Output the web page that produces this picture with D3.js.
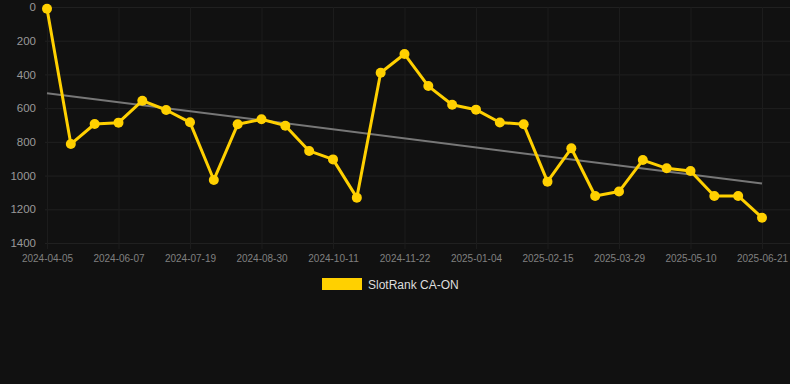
<!DOCTYPE html>
<html>
<head>
<meta charset="utf-8">
<script src="https://cdn.jsdelivr.net/npm/d3@7"></script>
<style>
    html, body { margin: 0; padding: 0; background: #111111; }
    svg { display: block; font-family: Arial, "Liberation Sans", sans-serif; }
</style>
</head>
<body>
<svg id="chart" width="790" height="384"></svg>
<script>
    'use strict';

    var dates = [
        '2024-04-05', '2024-04-26', '2024-05-17', '2024-06-07', '2024-06-21',
        '2024-07-05', '2024-07-19', '2024-08-02', '2024-08-16', '2024-08-30',
        '2024-09-13', '2024-09-27', '2024-10-11', '2024-10-25', '2024-11-08',
        '2024-11-22', '2024-12-06', '2024-12-20', '2025-01-04', '2025-01-18',
        '2025-02-01', '2025-02-15', '2025-03-01', '2025-03-15', '2025-03-29',
        '2025-04-12', '2025-04-26', '2025-05-10', '2025-05-24', '2025-06-07',
        '2025-06-21'
    ];

    var ranks = [
        10, 813, 694, 686, 556, 611, 684, 1026, 696, 666,
        704, 854, 904, 1131, 390, 279, 469, 580, 609, 685,
        696, 1036, 838, 1121, 1095, 908, 957, 973, 1121, 1121,
        1250
    ];

    var yTicks = [0, 200, 400, 600, 800, 1000, 1200, 1400];
    var seriesName = 'SlotRank CA-ON';

    (function() {
        var svg = d3.select('#chart');

        var plotLeft = 47,
            plotRight = 762,
            plotTop = 7,
            plotBottom = 243,
            gridColor = '#202020',
            lineColor = '#ffd000';

        var x = d3.scalePoint()
            .domain(dates)
            .range([plotLeft, plotRight]);

        var y = d3.scaleLinear()
            .domain([0, 1400])
            .range([plotTop, plotBottom]);

        // Horizontal grid + y labels
        var yAxis = d3.axisLeft(y)
            .tickValues(yTicks)
            .tickFormat(d3.format('d'))
            .tickSize(-(790 - 45))
            .tickPadding(9);

        svg.append('g')
            .attr('transform', 'translate(45, 0)')
            .call(yAxis)
            .call(g => g.select('.domain').remove())
            .call(g => g.selectAll('.tick line').attr('stroke', gridColor))
            .call(g => g.selectAll('.tick text')
                .attr('fill', '#999999')
                .attr('font-size', 11.5));

        // Vertical grid + x labels (every third date)
        var labelDates = dates.filter((d, i) => i % 3 === 0);
        var xAxis = d3.axisBottom(x)
            .tickValues(labelDates)
            .tickSize(-(plotBottom - plotTop) - 6)
            .tickPadding(4);

        svg.append('g')
            .attr('transform', `translate(0, ${plotBottom + 6})`)
            .call(xAxis)
            .call(g => g.select('.domain').remove())
            .call(g => g.selectAll('.tick line').attr('stroke', '#1c1c1c'))
            .call(g => g.selectAll('.tick text')
                .attr('y', 6)
                .attr('fill', '#808080')
                .attr('font-size', 10));

        // Trend line (least squares fit of the ranks)
        var n = ranks.length,
            meanI = d3.mean(ranks, (d, i) => i),
            meanV = d3.mean(ranks),
            sxy = d3.sum(ranks, (d, i) => (i - meanI) * (d - meanV)),
            sxx = d3.sum(ranks, (d, i) => (i - meanI) * (i - meanI)),
            slope = sxy / sxx,
            intercept = meanV - slope * meanI;

        svg.append('line')
            .attr('x1', x(dates[0]))
            .attr('y1', y(intercept))
            .attr('x2', x(dates[n - 1]))
            .attr('y2', y(intercept + slope * (n - 1)))
            .attr('stroke', '#777777')
            .attr('stroke-width', 2);

        // Series line
        var line = d3.line()
            .x((d, i) => x(dates[i]))
            .y(d => y(d));

        svg.append('path')
            .datum(ranks)
            .attr('fill', 'none')
            .attr('stroke', lineColor)
            .attr('stroke-width', 3)
            .attr('stroke-linejoin', 'round')
            .attr('d', line);

        svg.append('g')
            .selectAll('circle')
            .data(ranks)
            .join('circle')
            .attr('cx', (d, i) => x(dates[i]))
            .attr('cy', d => y(d))
            .attr('r', 5)
            .attr('fill', lineColor);

        // Legend
        var legend = svg.append('g')
            .attr('transform', 'translate(322, 278)');

        legend.append('rect')
            .attr('width', 40)
            .attr('height', 12)
            .attr('fill', lineColor);

        legend.append('text')
            .attr('x', 46)
            .attr('y', 10.5)
            .attr('fill', '#dddddd')
            .attr('font-size', 12)
            .text(seriesName);
    })();
</script>
</body>
</html>
